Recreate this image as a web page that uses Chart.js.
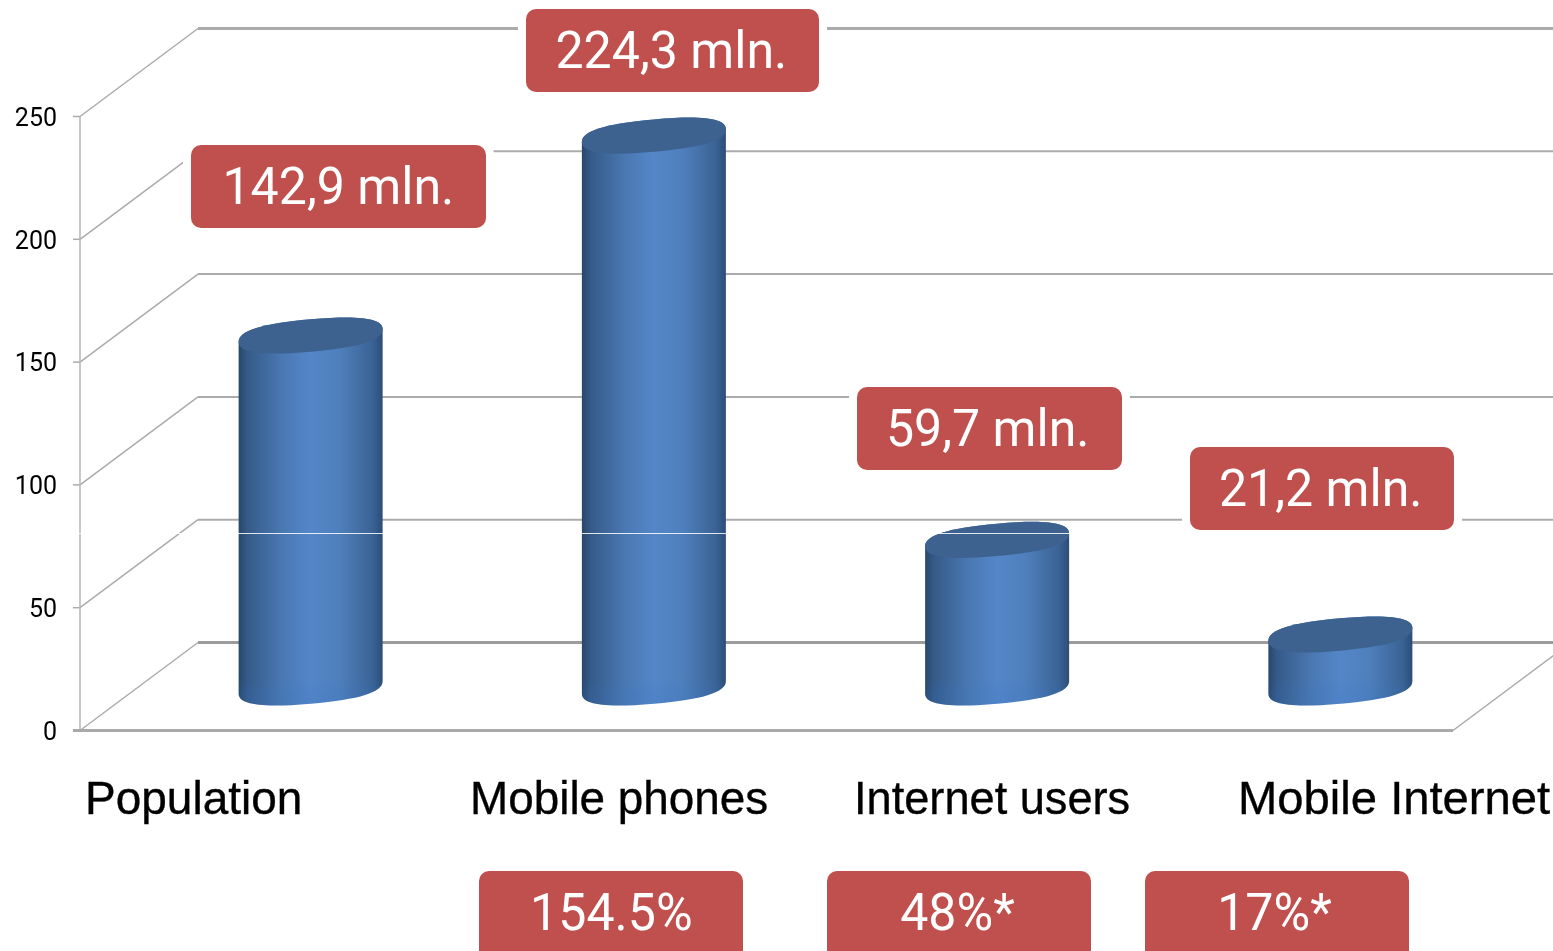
<!DOCTYPE html>
<html><head><meta charset="utf-8">
<script src="https://cdn.jsdelivr.net/npm/chart.js@4"></script>
<style>
html,body{margin:0;padding:0;background:#fff;overflow:hidden;width:1553px;height:951px}
#wrap{position:relative;width:1553px;height:951px;overflow:hidden}
canvas{position:absolute;left:0;top:0}
.box{position:absolute;background:#c0504d;border-radius:10px;box-shadow:0 0 0 8px #fff;color:#fff;font:52px Roboto,sans-serif;white-space:nowrap;text-align:center}
.box span{display:inline-block;transform-origin:center}
.cat{position:absolute;font:46px "Liberation Sans",Arial,sans-serif;color:#000;white-space:nowrap;transform-origin:left center;-webkit-text-stroke:.35px #000}
</style></head>
<body><div id="wrap"><canvas id="c" width="1553" height="951"></canvas></div>
<script>
const categories = ['Population','Mobile phones','Internet users','Mobile Internet'];
const values = [142.9, 224.3, 59.7, 21.2];
const valueLabels = ['142,9 mln.','224,3 mln.','59,7 mln.','21,2 mln.'];
const shareLabels = ['154.5%','48%*','17%*'];

const DX = 118, DY = -88;
const wall = {
  id:'wall',
  beforeDatasetsDraw(ch){
    const y = ch.scales.y, a = ch.chartArea, g = ch.ctx;
    g.save(); g.lineCap='butt';
    y.ticks.forEach(t=>{
      const p = y.getPixelForValue(t.value);
      g.strokeStyle=t.value===0?'#9c9c9c':'#ababab'; g.lineWidth=t.value===0||t.value===250?3:2;
      g.beginPath(); g.moveTo(a.left+DX,p+DY); g.lineTo(ch.width,p+DY); g.stroke();
      g.strokeStyle='#ababab'; g.lineWidth=1.5;
      g.beginPath(); g.moveTo(a.left,p); g.lineTo(a.left+DX,p+DY); g.stroke();
      g.beginPath(); g.moveTo(a.left-7,p); g.lineTo(a.left,p); g.stroke();
    });
    const b = y.getPixelForValue(0);
    g.strokeStyle='#b4b4b4'; g.lineWidth=1.5;
    g.beginPath(); g.moveTo(a.left,y.top); g.lineTo(a.left,b); g.stroke();
    g.strokeStyle='#a9a9a9';
    g.beginPath(); g.moveTo(a.right,b); g.lineTo(a.right+DX,b+DY); g.stroke();
    g.lineWidth=3;
    g.beginPath(); g.moveTo(a.left-7,b); g.lineTo(a.right,b); g.stroke();
    g.restore();
  },
  afterDatasetsDraw(ch){
    const g = ch.ctx, shear = -0.088, ry = 16.2, k = 0.68;
    // sheared, slightly squared oval: the tilted 3-D cap of a cylinder
    const half = (cx,cy,rx,sign,first)=>{
      const P=(x,y)=>[cx+x, cy+y+shear*x];
      const s=sign; // +1: right to left under, -1: left to right over
      const a=P(s*rx,0), c1=P(s*rx,s*k*ry), c2=P(s*k*rx,s*ry), m=P(0,s*ry),
            c3=P(-s*k*rx,s*ry), c4=P(-s*rx,s*k*ry), e=P(-s*rx,0);
      if(first) g.moveTo(a[0],a[1]); else g.lineTo(a[0],a[1]);
      g.bezierCurveTo(c1[0],c1[1],c2[0],c2[1],m[0],m[1]);
      g.bezierCurveTo(c3[0],c3[1],c4[0],c4[1],e[0],e[1]);
    };
    ch.getDatasetMeta(0).data.forEach(bar=>{
      const cx = bar.x + DX/2, rx = bar.width/2;
      const top = bar.y + DY/2, base = bar.base + DY/2 + 1;
      const gr = g.createLinearGradient(cx-rx,0,cx+rx,0);
      gr.addColorStop(0,'#284769'); gr.addColorStop(.06,'#355a88');
      gr.addColorStop(.3,'#4a78b2'); gr.addColorStop(.5,'#5486c8');
      gr.addColorStop(.7,'#4f7fbc'); gr.addColorStop(.93,'#3a6395'); gr.addColorStop(1,'#2c4d77');
      g.save();
      g.beginPath();
      half(cx,base,rx,1,true);
      half(cx,top,rx,-1,false);
      g.closePath(); g.fillStyle=gr; g.fill();
      g.clip();
      const sh = g.createLinearGradient(0,base-10,0,base+6);
      sh.addColorStop(0,'rgba(50,115,200,0)'); sh.addColorStop(1,'rgba(50,115,200,.14)');
      g.fillStyle=sh; g.fillRect(cx-rx,base-10,2*rx,40);
      g.restore();
      g.beginPath();
      half(cx,top,rx,1,true); half(cx,top,rx,-1,false); g.closePath();
      g.fillStyle='#3d628f'; g.fill();
    });
    // thin pale seam crossing the picture
    g.save(); g.strokeStyle='rgba(255,255,255,.85)'; g.lineWidth=1;
    g.beginPath(); g.moveTo(78,533.5); g.lineTo(ch.width,533.5); g.stroke(); g.restore();
  }
};
new Chart(document.getElementById('c'),{
  type:'bar',
  data:{labels:categories,datasets:[{data:values,barThickness:144,backgroundColor:'rgba(0,0,0,0)',borderWidth:0}]},
  options:{
    responsive:false,animation:false,
    layout:{padding:{left:0,top:116.5,right:100,bottom:220.5}},
    plugins:{legend:{display:false},tooltip:{enabled:false},title:{display:false}},
    scales:{
      x:{display:false},
      y:{min:0,max:250,
        afterFit(s){s.width=80;},
        border:{display:false},grid:{display:false},
        ticks:{stepSize:50,padding:15,labelOffset:3,color:'#000',font:{family:'Roboto',size:25}}}
    }
  },
  plugins:[wall]
});
const wrap=document.getElementById('wrap');
const boxes=[[191,145,295,83,valueLabels[0],0],[526,9,293,83,valueLabels[1],-1],[857,387,265,83,valueLabels[2],-2],[1190,447,264,83,valueLabels[3],-1],
 [479,871,264,90,shareLabels[0],0],[827,871,264,90,shareLabels[1],-2],[1145,871,264,90,shareLabels[2],-3]];
boxes.forEach(([x,y,w,h,t,dx])=>{
  const d=document.createElement('div');d.className='box';
  d.style.cssText=`left:${x}px;top:${y}px;width:${w}px;height:${h}px;line-height:83px`;
  const s=document.createElement('span');s.textContent=t;s.style.transform=`translateX(${dx}px) scaleX(.963)`;d.appendChild(s);wrap.appendChild(d);
});
const catX=[85,470,854,1238], catScale=[1,.997,.982,1.026];
categories.forEach((t,i)=>{
  const d=document.createElement('div');d.className='cat';d.textContent=t;
  d.style.left=catX[i]+'px';d.style.top='771px';d.style.transform=`scaleX(${catScale[i]})`;wrap.appendChild(d);
});
</script></body></html>
